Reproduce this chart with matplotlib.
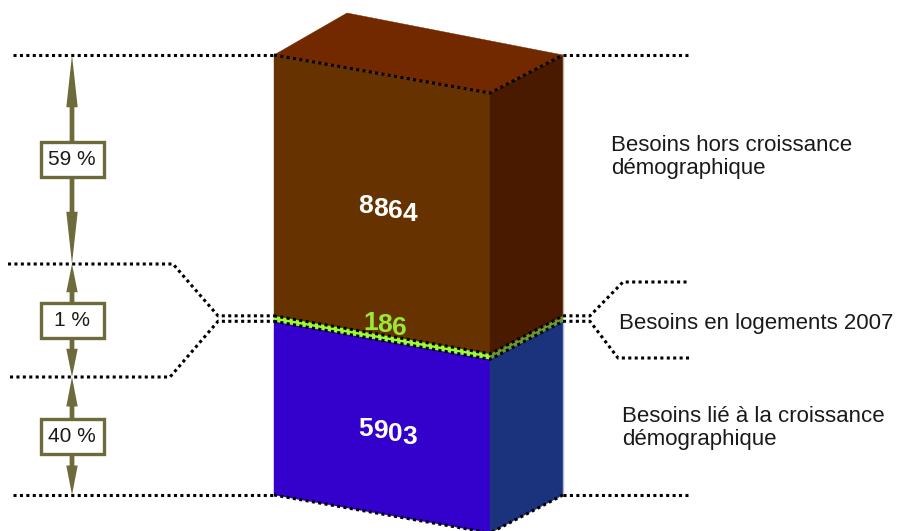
import matplotlib
matplotlib.use('Agg')
import matplotlib.pyplot as plt
from matplotlib.patches import Polygon, Rectangle, FancyArrowPatch
import numpy as np

# ---------------- data ----------------
categories = ["Besoins lié à la croissance\ndémographique",
              "Besoins en logements 2007",
              "Besoins hors croissance\ndémographique"]
values = [5903, 186, 8864]
percent_labels = ["40 %", "1 %", "59 %"]

# ---------------- style ----------------
front_colors = ['#3300cc', '#99ff33', '#663300']
side_colors = ['#1b327c', '#6a9a2a', '#4a1a00']
top_color = '#732900'
value_colors = ['white', '#99e833', 'white']
olive = '#6d6a3b'
FONT = 'Liberation Sans'

W, H = 898, 531
fig = plt.figure(figsize=(W / 100, H / 100), dpi=100)
ax = fig.add_axes([0, 0, 1, 1])
ax.axis('off')

# geometry in pixels (layout)
BASE_PX, TOP_PX = 495, 55
X0, X1, X2 = 274, 490, 563
SLOPE_PX = 38
APEX_X, APEX_Y = 347, 13

total = sum(values)
k = (BASE_PX - TOP_PX) / total          # pixels per unit
ax.set_xlim(0, W)
ax.set_ylim(-(H - BASE_PX) / k, BASE_PX / k)
dv = SLOPE_PX / k
slope = SLOPE_PX / (X1 - X0)            # pixel drop per pixel to the right


def vy(py):
    """layout pixel row -> value coordinate"""
    return (BASE_PX - py) / k


bottoms = np.concatenate([[0], np.cumsum(values)[:-1]])
tops = np.cumsum(values)

# ---------------- 3D box ----------------
for b, t, fc, sc in zip(bottoms, tops, front_colors, side_colors):
    ax.add_patch(Polygon([(X0, b), (X1, b - dv), (X1, t - dv), (X0, t)],
                         closed=True, facecolor=fc, edgecolor=fc, lw=0.3))
    ax.add_patch(Polygon([(X1, b - dv), (X2, b), (X2, t), (X1, t - dv)],
                         closed=True, facecolor=sc, edgecolor=sc, lw=0.3))
T = tops[-1]
ax.add_patch(Polygon([(X0, T), (APEX_X, vy(APEX_Y)), (X2, T), (X1, T - dv)],
                     closed=True, facecolor=top_color, edgecolor=top_color, lw=0.3))
ax.plot([X2, X2], [tops[1], T], color='#c9b59f', lw=1)
ax.plot([X2, X2], [0, bottoms[1]], color='#a9bde0', lw=1)

# ---------------- dotted lines ----------------
dot = dict(color='black', lw=2.2, ls=(0, (1, 1.1)), solid_capstyle='butt',
           dash_capstyle='butt')
b1, t1 = bottoms[1], tops[1]
for v in [0, b1, t1, T]:
    ax.plot([X0, X1, X2], [v, v - dv, v], **dot)
ax.plot([13, X0], [T, T], **dot)
ax.plot([X2, 690], [T, T], **dot)
ax.plot([13, X0], [0, 0], **dot)
ax.plot([X2, 690], [0, 0], **dot)
ax.plot([8, 173, 218, X0], [vy(264), vy(264), t1, t1], **dot)
ax.plot([10, 170, 218, X0], [vy(377), vy(377), b1, b1], **dot)
ax.plot([X2, 590, 623, 688], [t1, t1, vy(282), vy(282)], **dot)
ax.plot([X2, 590, 618, 690], [b1, b1, vy(358), vy(358)], **dot)

# ---------------- value labels (upright glyphs on a sloping baseline) ----------------
FS = 19
adv = 0.556 * FS * 100 / 72            # digit advance in pixels
cap = 0.72 * FS * 100 / 72


def skew_label(text, xc, yc_val, color):
    n = len(text)
    for i, ch in enumerate(text):
        x = xc + (i + 0.5 - n / 2) * adv
        y = yc_val - slope * (x - xc) / k - (cap / 2) / k
        ax.text(x, y, ch, color=color, fontsize=FS, fontweight='bold',
                family=FONT, ha='center', va='baseline')


xc = 388
skew_label(f"{values[0]}", xc, (bottoms[0] + tops[0]) / 2 - dv / 2 - 3 / k, value_colors[0])
skew_label(f"{values[1]}", xc - 3, t1 - dv / 2 + 12 / k, value_colors[1])
skew_label(f"{values[2]}", xc, (bottoms[2] + tops[2]) / 2 - dv / 2 - 3 / k, value_colors[2])

# ---------------- percentage arrows ----------------
AX = 72
spans = [(0, vy(377)), (vy(377), vy(264)), (vy(264), T)]
for (lo, hi), lab in zip(spans, percent_labels):
    mid = (lo + hi) / 2
    span_px = (hi - lo) * k
    hl = 0.25 * span_px * 72 / 100
    for tip in (lo, hi):
        ax.add_patch(FancyArrowPatch((AX, mid), (AX, tip),
                     arrowstyle=f'simple,head_length={hl},head_width=8.2,tail_width=3.4',
                     mutation_scale=1, shrinkA=0, shrinkB=0,
                     color=olive, lw=0))
    bw, bh = 63, 35
    ax.add_patch(Rectangle((AX - bw / 2, mid - bh / 2 / k), bw, bh / k,
                           facecolor='white', edgecolor=olive, lw=2.4, zorder=5))
    ax.text(AX, mid, lab, fontsize=15, family=FONT, color='#1a1a1a',
            ha='center', va='center', zorder=6)

# ---------------- category labels ----------------
label_pos = [(622, 428), (619, 323), (611, 157)]
for cat, (px, py) in zip(categories, label_pos):
    ax.text(px, vy(py), cat, fontsize=16, family=FONT, color='#1a1a1a',
            ha='left', va='center', linespacing=1.1)

fig.savefig('out.png', dpi=100)
